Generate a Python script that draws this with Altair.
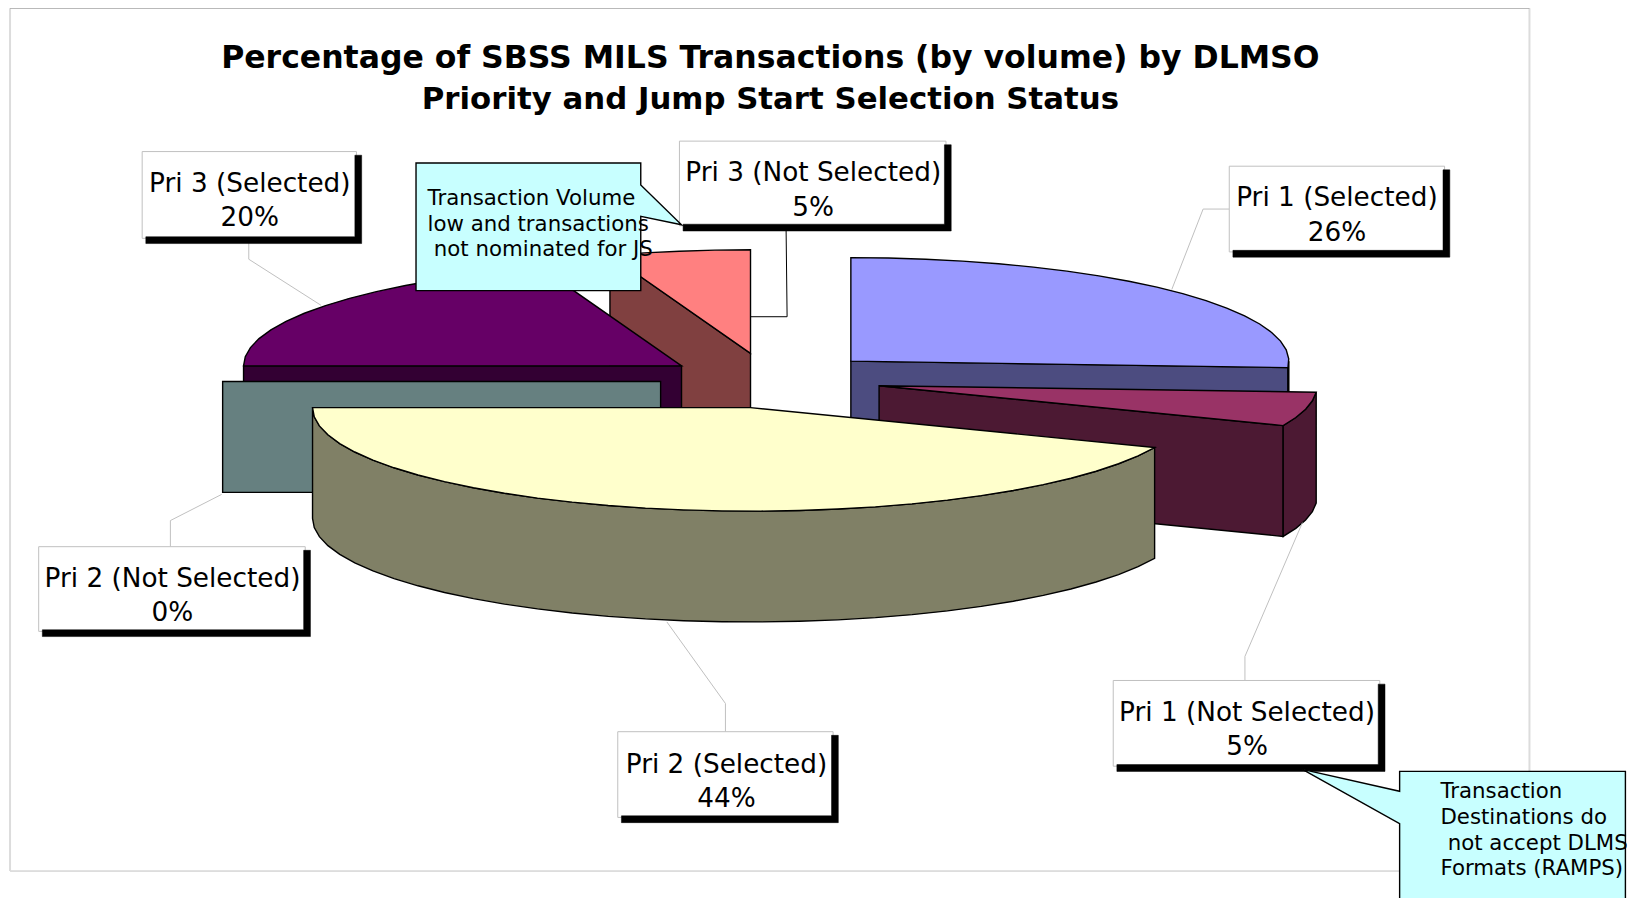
import math
import altair as alt
import pandas as pd

# ---- values
names = ["Pri 1 (Selected)", "Pri 1 (Not Selected)", "Pri 2 (Selected)",
         "Pri 2 (Not Selected)", "Pri 3 (Selected)", "Pri 3 (Not Selected)"]
shares = [26.0, 5.3, 43.7, 0.0, 19.8, 5.2]
top_colors = ["#9999FF", "#993366", "#FFFFCC", "#CCFFFF", "#660066", "#FF8080"]
side_colors = ["#4C4C80", "#4C1933", "#808066", "#668080", "#330033", "#804040"]
title_lines = ["Percentage of SBSS MILS Transactions (by volume) by DLMSO",
               "Priority and Jump Start Selection Status"]
title_sizes = [31.5, 30.8]
note_left = ["Transaction Volume", "low and transactions", "not nominated for JS"]
note_right = ["Transaction", "Destinations do", "not accept DLMS", "Formats (RAMPS)"]

# ---- layout, in pixels of the picture
S = 1639 / 1568
RX, RY, DEPTH = 419 * S, 99 * S, 106 * S
STEP = 5
centers = [(814, 345.5), (841, 369), (718, 390), (632, 365), (652, 350), (718, 338)]
paint_order = [0, 1, 5, 4, 3, 2]
label_boxes = {  # left, top, right, bottom, text centre x, first line y
    0: (1176, 159, 1382, 241, 1279, 188),
    1: (1065, 651, 1320, 733, 1193, 680),
    2: (591, 700, 797, 782, 695, 730),
    3: (37, 523, 292, 604, 165, 552),
    4: (136, 145, 341, 228, 239, 174),
    5: (650, 135, 905, 216, 778, 164),
}
leaders = [
    ([(1176, 200), (1151, 200), (1121, 277)], "#c0c0c0"),
    ([(1191, 651), (1191, 628), (1246, 500)], "#c0c0c0"),
    ([(694, 700), (694, 673), (638, 595)], "#c0c0c0"),
    ([(163, 523), (163, 498), (212, 473)], "#c0c0c0"),
    ([(238, 228), (238, 248), (307, 292)], "#c0c0c0"),
    ([(752, 216), (753, 303), (718, 303)], "#000000"),
]
callout_left = [(398, 156), (613, 156), (613, 177), (652, 215), (613, 207), (613, 278), (398, 278)]
callout_right = [(1339, 738), (1555, 738), (1555, 880), (1339, 880), (1339, 788), (1246, 736), (1339, 757)]
CYAN = "#C8FFFF"
FRAME = (9.6, 7.95, 1463.2, 833.3)

X = alt.X("x:Q", axis=None, scale=alt.Scale(domain=[8, 1631], zero=False, nice=False))
Y = alt.Y("y:Q", axis=None, scale=alt.Scale(domain=[8, 898], reverse=True, zero=False, nice=False))


def poly(points, fill, stroke="#000000", width=1.4):
    df = pd.DataFrame([{"x": p[0], "y": p[1], "i": i} for i, p in enumerate(points)])
    return alt.Chart(df).mark_line(fill=fill, stroke=stroke, strokeWidth=width,
                                   interpolate="linear-closed", clip=True).encode(
        x=X, y=Y, order=alt.Order("i:Q"))


def path(points, stroke, width=1.0):
    df = pd.DataFrame([{"x": p[0] * S, "y": p[1] * S, "i": i} for i, p in enumerate(points)])
    return alt.Chart(df).mark_line(stroke=stroke, strokeWidth=width).encode(
        x=X, y=Y, order=alt.Order("i:Q"))


def text(x, y, s, size, weight="normal", align="center"):
    df = pd.DataFrame([{"x": x * S, "y": y * S, "t": s}])
    return alt.Chart(df).mark_text(font="DejaVu Sans", fontSize=size, fontWeight=weight,
                                   align=align, baseline="middle", color="#000000").encode(
        x=X, y=Y, text="t:N")


def scaled(points):
    return [(a * S, b * S) for a, b in points]


def rim(cx, cy, deg, dy=0):
    r = math.radians(deg)
    return (cx + RX * math.cos(r), cy + RY * math.sin(r) + dy)


def arc(cx, cy, a, b, dy=0):
    n = max(1, int(round(abs(b - a) / STEP)))
    return [rim(cx, cy, a + (b - a) * k / n, dy) for k in range(n + 1)]


# slice angles come from the shares, clockwise from twelve o'clock
angles = []
start = -90.0
for v in shares:
    angles.append((start, start + v * 3.6))
    start += v * 3.6

layers = []
# outer frame
fl, ft, fr, fb = FRAME
layers.append(path([(fl, fb), (fr, fb)], "#c0c0c0"))
layers.append(path([(fl, ft), (fl, fb)], "#dcdcdc", 2))
layers.append(path([(fr, ft), (fr, fb)], "#dcdcdc", 2))
layers.append(path([(fl, ft), (fr, ft)], "#a8a8a8"))

for idx in paint_order:
    a, b = angles[idx]
    cx, cy = centers[idx][0] * S, centers[idx][1] * S
    apex = (cx, cy)
    apex_low = (cx, cy + DEPTH)
    top, side = top_colors[idx], side_colors[idx]
    if 90 < a < 270:  # start cut faces the viewer
        r = rim(cx, cy, a)
        layers.append(poly([apex, r, (r[0], r[1] + DEPTH), apex_low], side))
    if -90 < b < 90:  # end cut faces the viewer
        r = rim(cx, cy, b)
        layers.append(poly([apex, r, (r[0], r[1] + DEPTH), apex_low], side))
    lo, hi = max(a, 0), min(b, 180)
    if hi > lo:  # outer wall, front half only
        layers.append(poly(arc(cx, cy, lo, hi) + arc(cx, cy, hi, lo, DEPTH), side))
    if b > a:
        layers.append(poly([apex] + arc(cx, cy, a, b), top))

for pts, col in leaders:
    layers.append(path(pts, col))

for idx, (l, t, r, bt, tx, ty) in label_boxes.items():
    layers.append(poly(scaled([(l, t), (r, t), (r, bt), (l, bt)]), "#ffffff", "#c0c0c0", 1))
    layers.append(poly(scaled([(r - 1.5, t + 3.5), (r + 5, t + 3.5), (r + 5, bt + 5),
                               (l + 3.5, bt + 5), (l + 3.5, bt - 1.5), (r - 1.5, bt - 1.5)]),
                       "#000000", "#000000", 0.5))
    layers.append(text(tx, ty + 1.7, names[idx], 26.3))
    layers.append(text(tx, ty + 34.7, f"{shares[idx]:.0f}%", 26.3))

layers.append(poly(scaled(callout_left), CYAN))
for y, s, x in zip([189, 214, 238], note_left, [409, 409, 415]):
    layers.append(text(x, y + 1, s, 21.3, align="left"))

layers.append(poly(scaled(callout_right), CYAN))
for y, s, x in zip([757, 782, 806, 830], note_right, [1378, 1378, 1385, 1378]):
    layers.append(text(x, y + 1, s, 21.3, align="left"))

for y, s, fs in zip([54, 94], title_lines, title_sizes):
    layers.append(text(737, y + 2, s, fs, weight="bold"))

chart = alt.layer(*layers).properties(
    width=1623, height=890, padding=0,
    autosize=alt.AutoSizeParams(type="none"),
).configure_view(stroke=None)
chart.save("out.html", embed_options={"renderer": "svg", "actions": False})
